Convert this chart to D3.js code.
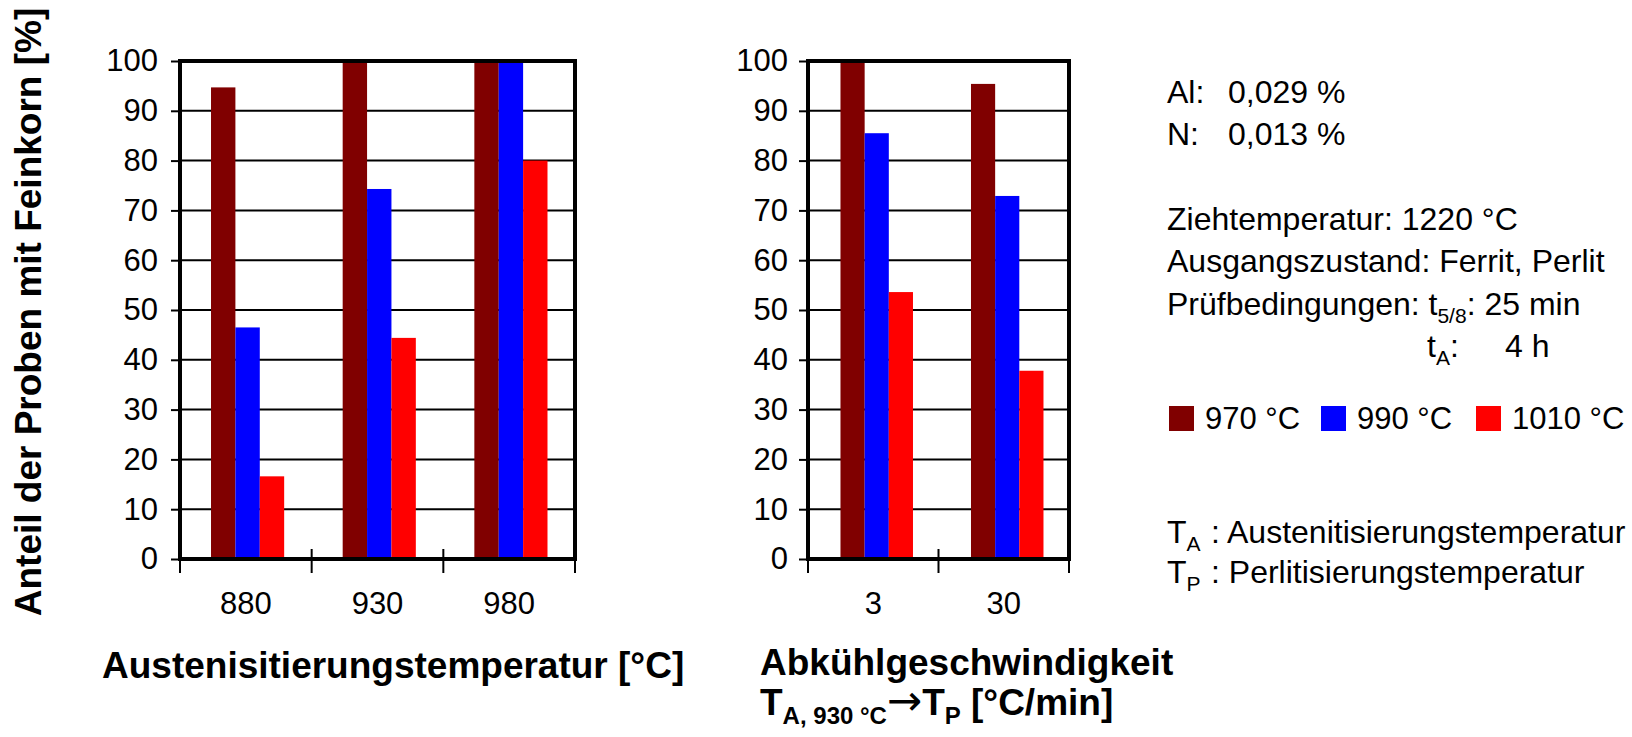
<!DOCTYPE html>
<html>
<head>
<meta charset="utf-8">
<script src="https://cdn.jsdelivr.net/npm/d3@7"></script>
<style>
  html, body { margin: 0; padding: 0; background: #fff; }
  svg { display: block; font-family: "Liberation Sans", Arial, Helvetica, sans-serif; }
</style>
</head>
<body>
<svg id="chart" width="1632" height="737"></svg>
<script>
// Share of samples with fine grain, by austenitising temperature and cooling rate
const seriesNames = ["970 °C", "990 °C", "1010 °C"];
const seriesColors = ["#800000", "#0000ff", "#ff0000"];

// Panel A: austenitising temperature [°C]
const categoriesA = ["880", "930", "980"];
const valuesA970 = [94.7, 100, 100];
const valuesA990 = [46.5, 74.3, 100];
const valuesA1010 = [16.6, 44.4, 80];

// Panel B: cooling rate T_A(930 °C) -> T_P [°C/min]
const categoriesB = ["3", "30"];
const valuesB970 = [100, 95.4];
const valuesB990 = [85.5, 72.9];
const valuesB1010 = [53.6, 37.8];

const yTicks = [0, 10, 20, 30, 40, 50, 60, 70, 80, 90, 100];

const svg = d3.select("#chart");
svg.append("rect").attr("width", 1632).attr("height", 737).attr("fill", "#fff");

const yScale = d3.scaleLinear().domain([0, 100]).range([559, 61]);

function drawPanel(cats, seriesValues, xRange, labelPad, groupAlign) {
  const g = svg.append("g");
  const x0 = d3.scaleBand().domain(cats).range(xRange).padding(0);
  const x1 = d3.scaleBand().domain(seriesNames).range([0, x0.bandwidth()])
    .paddingInner(0).paddingOuter(1.2).align(groupAlign);
  const [xl, xr] = xRange;
  const [y0, yTop] = yScale.range();

  // horizontal gridlines
  g.append("g").selectAll("line").data(yTicks.filter(d => d > 0 && d < 100)).join("line")
    .attr("x1", xl).attr("x2", xr)
    .attr("y1", d => yScale(d)).attr("y2", d => yScale(d))
    .attr("stroke", "#000").attr("stroke-width", 2);

  // bars
  const rows = cats.map((c, i) => ({ cat: c, vals: seriesValues.map(s => s[i]) }));
  g.append("g").selectAll("g").data(rows).join("g")
    .attr("transform", d => `translate(${x0(d.cat)},0)`)
    .selectAll("rect").data(d => d.vals.map((v, k) => ({ v, k }))).join("rect")
    .attr("x", d => x1(seriesNames[d.k]))
    .attr("width", x1.bandwidth())
    .attr("y", d => yScale(d.v))
    .attr("height", d => yScale(0) - yScale(d.v))
    .attr("fill", d => seriesColors[d.k]);

  // y axis ticks and labels
  const yAxis = d3.axisLeft(yScale).tickValues(yTicks).tickSize(9).tickPadding(labelPad);
  const ya = g.append("g").attr("transform", `translate(${xl},0)`).call(yAxis);
  ya.select(".domain").remove();
  ya.selectAll(".tick line").attr("stroke", "#000").attr("stroke-width", 2);
  ya.selectAll(".tick text").attr("font-size", 31).attr("fill", "#000")
    .attr("font-family", "Liberation Sans, Arial, sans-serif");

  // x category labels
  const xAxis = d3.axisBottom(x0).tickSize(0).tickPadding(33);
  const xa = g.append("g").attr("transform", `translate(0,${y0})`).call(xAxis);
  xa.select(".domain").remove();
  xa.selectAll(".tick text").attr("font-size", 31).attr("fill", "#000")
    .attr("font-family", "Liberation Sans, Arial, sans-serif");

  // tick marks at category boundaries
  const bounds = cats.map(c => x0(c)).concat([xr]);
  g.append("g").selectAll("line").data(bounds).join("line")
    .attr("x1", d => d).attr("x2", d => d)
    .attr("y1", (d, i) => (i === 0 || i === bounds.length - 1) ? y0 : y0 - 10)
    .attr("y2", y0 + 14)
    .attr("stroke", "#000").attr("stroke-width", 2);

  // plot frame
  g.append("rect")
    .attr("x", xl).attr("y", yTop).attr("width", xr - xl).attr("height", y0 - yTop)
    .attr("fill", "none").attr("stroke", "#000").attr("stroke-width", 4);
}

drawPanel(categoriesA, [valuesA970, valuesA990, valuesA1010], [180, 575], 13, 0.53);
drawPanel(categoriesB, [valuesB970, valuesB990, valuesB1010], [808, 1069], 11, 0.56);

// axis titles
svg.append("text")
  .attr("transform", "translate(41,312) rotate(-90)")
  .attr("text-anchor", "middle").attr("font-size", 37).attr("font-weight", "bold")
  .text("Anteil der Proben mit Feinkorn [%]");

svg.append("text")
  .attr("x", 102).attr("y", 678).attr("font-size", 37).attr("font-weight", "bold")
  .text("Austenisitierungstemperatur [°C]");

svg.append("text")
  .attr("x", 760).attr("y", 675).attr("font-size", 37).attr("font-weight", "bold")
  .text("Abkühlgeschwindigkeit");

const t2 = svg.append("text").attr("x", 760).attr("y", 715)
  .attr("font-size", 37).attr("font-weight", "bold");
t2.append("tspan").text("T");
t2.append("tspan").attr("font-size", 24).attr("dy", 9).text("A, 930 °C");
t2.append("tspan").attr("dy", -9).attr("font-weight", "normal")
  .attr("font-family", "DejaVu Sans, sans-serif").attr("font-size", 42).text("→");
t2.append("tspan").text("T");
t2.append("tspan").attr("font-size", 24).attr("dy", 9).text("P");
t2.append("tspan").attr("dy", -9).text(" [°C/min]");

// composition and test conditions
const info = svg.append("g").attr("font-size", 32).attr("fill", "#000");
const infoLeft = ["Al:", "N:"];
const infoRight = ["0,029 %", "0,013 %"];
infoLeft.forEach((t, i) => {
  info.append("text").attr("x", 1167).attr("y", 103 + i * 42).text(t);
  info.append("text").attr("x", 1228).attr("y", 103 + i * 42).text(infoRight[i]);
});
info.append("text").attr("x", 1167).attr("y", 230).text("Ziehtemperatur: 1220 °C");
info.append("text").attr("x", 1167).attr("y", 272).text("Ausgangszustand: Ferrit, Perlit");
const p1 = info.append("text").attr("x", 1167).attr("y", 315);
p1.append("tspan").text("Prüfbedingungen: t");
p1.append("tspan").attr("font-size", 21).attr("dy", 8).text("5/8");
p1.append("tspan").attr("dy", -8).text(": 25 min");
const p2 = info.append("text").attr("x", 1427).attr("y", 357);
p2.append("tspan").text("t");
p2.append("tspan").attr("font-size", 21).attr("dy", 8).text("A");
p2.append("tspan").attr("dy", -8).text(":");
info.append("text").attr("x", 1505).attr("y", 357).text("4 h");

// legend
const legendX = [1169, 1321, 1476];
const lg = svg.append("g");
seriesNames.forEach((name, i) => {
  lg.append("rect").attr("x", legendX[i]).attr("y", 406).attr("width", 25).attr("height", 25)
    .attr("fill", seriesColors[i]);
  lg.append("text").attr("x", legendX[i] + 36).attr("y", 429).attr("font-size", 31).text(name);
});

// symbol key
const keys = [["A", "Austenitisierungstemperatur"], ["P", "Perlitisierungstemperatur"]];
keys.forEach(([sub, label], i) => {
  const y = 543 + i * 40;
  const t = svg.append("text").attr("x", 1167).attr("y", y).attr("font-size", 32);
  t.append("tspan").text("T");
  t.append("tspan").attr("font-size", 21).attr("dy", 8).text(sub);
  svg.append("text").attr("x", 1211).attr("y", y).attr("font-size", 32).text(": " + label);
});
</script>
</body>
</html>
